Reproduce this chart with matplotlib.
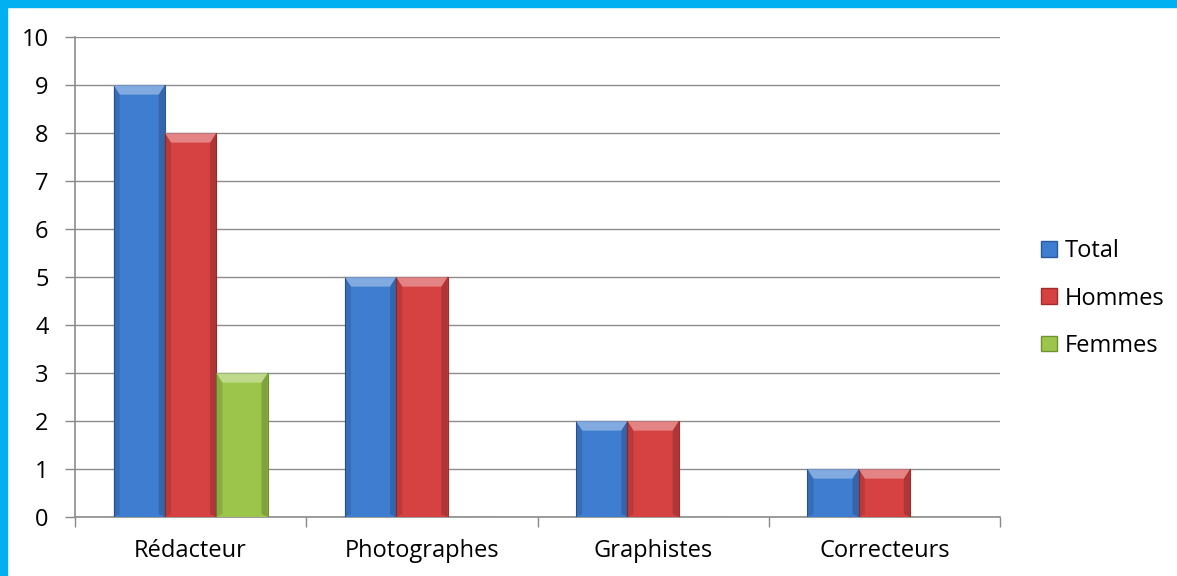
import matplotlib.pyplot as plt
import matplotlib.patches as mpatches
import numpy as np

categories = ['Rédacteur', 'Photographes', 'Graphistes', 'Correcteurs']
series_names = ['Total', 'Hommes', 'Femmes']
total = [9, 5, 2, 1]
hommes = [8, 5, 2, 1]
femmes = [3, 0, 0, 0]
values = [total, hommes, femmes]

colors = ['#3f7dd1', '#d64242', '#9cc64b']
edges = ['#2b5a9c', '#9e2d2d', '#6f9232']

plt.rcParams['font.family'] = ['Open Sans', 'DejaVu Sans']

fig = plt.figure(figsize=(11.77, 5.76), dpi=100)
# cyan frame on left and top
fig.patches.append(mpatches.Rectangle((0, 0), 7 / 1177, 1, transform=fig.transFigure,
                                      color='#00b0f0', zorder=0))
fig.patches.append(mpatches.Rectangle((0, 1 - 7 / 576), 1, 7 / 576, transform=fig.transFigure,
                                      color='#00b0f0', zorder=0))

ax = fig.add_axes([75 / 1177, 1 - 517 / 576, 925 / 1177, 480 / 576])

n = len(series_names)
bw = 1 / (n + 1.5)
x = np.arange(len(categories))
for i, (vals, c, e) in enumerate(zip(values, colors, edges)):
    pos = x + (i - (n - 1) / 2) * bw
    bars = ax.bar(pos, vals, width=bw, color=c, edgecolor=e, linewidth=0.8,
                  label=series_names[i], zorder=3)
    for b in bars:
        h = b.get_height()
        if h <= 0:
            continue
        x0, w = b.get_x(), b.get_width()
        bev = 0.12 * w
        bh = 0.2  # bevel height in data units
        # top bevel (lighter)
        ax.add_patch(mpatches.Polygon([[x0, h], [x0 + w, h], [x0 + w - bev, h - bh], [x0 + bev, h - bh]],
                                      closed=True, color='white', alpha=0.35, lw=0, zorder=4))
        # side bevels (darker)
        ax.add_patch(mpatches.Polygon([[x0, h], [x0 + bev, h - bh], [x0 + bev, 0.06], [x0, 0]],
                                      closed=True, color='black', alpha=0.12, lw=0, zorder=4))
        ax.add_patch(mpatches.Polygon([[x0 + w, h], [x0 + w - bev, h - bh], [x0 + w - bev, 0.06], [x0 + w, 0]],
                                      closed=True, color='black', alpha=0.18, lw=0, zorder=4))

ax.set_xlim(-0.5, len(categories) - 0.5)
ax.set_ylim(0, 10)
ax.set_yticks(range(0, 11))
ax.set_xticks(x)
ax.set_xticklabels(categories)
ax.set_xticks(np.arange(-0.5, len(categories) + 0.5, 1), minor=True)
ax.tick_params(axis='x', which='major', length=0, pad=16, labelsize=17)
ax.tick_params(axis='x', which='minor', length=7, color='#888888', width=1)
ax.tick_params(axis='y', length=7, color='#888888', width=1, labelsize=17, pad=12)
ax.grid(axis='y', color='#8c8c8c', linewidth=1, zorder=0)
for s in ['top', 'right']:
    ax.spines[s].set_visible(False)
for s in ['left', 'bottom']:
    ax.spines[s].set_color('#8c8c8c')
    ax.spines[s].set_linewidth(1.2)

handles = [mpatches.Patch(facecolor=c, edgecolor=e) for c, e in zip(colors, edges)]
fig.legend(handles, series_names, loc='upper left', bbox_to_anchor=(1032 / 1177, 1 - 230 / 576),
           frameon=False, fontsize=17, handlelength=0.65, handleheight=0.65,
           handletextpad=0.35, labelspacing=0.98, borderaxespad=0)

fig.savefig('out.png', dpi=100, facecolor='white')
